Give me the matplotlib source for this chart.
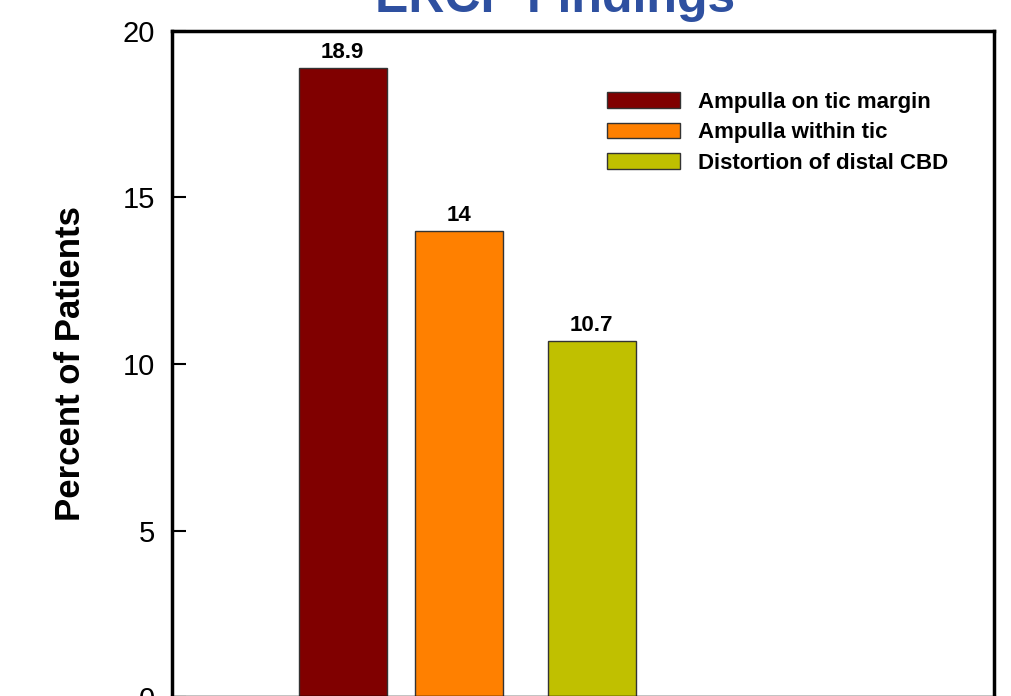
import matplotlib
matplotlib.use('Agg')
import matplotlib.pyplot as plt

# Data
categories = ['Ampulla on tic margin', 'Ampulla within tic', 'Distortion of distal CBD']
values = [18.9, 14, 10.7]
value_labels = ['18.9', '14', '10.7']
yticks = [0, 5, 10, 15, 20]

bar_colors = ['#800000', '#FF8000', '#C0C000']
x_pos = [1.94, 3.26, 4.77]

plt.rcParams['font.family'] = ['Liberation Sans Narrow', 'Liberation Sans', 'DejaVu Sans']

W, H = 1012, 696
fig = plt.figure(figsize=(W / 100, H / 100), dpi=100)
ax = fig.add_axes([172 / W, (H - 697) / H, (994 - 172) / W, (697 - 31) / H])

for x, v, c, lab in zip(x_pos, values, bar_colors, categories):
    ax.bar(x, v, width=1.0, color=c, edgecolor='#333333', linewidth=1.0, label=lab)

# value labels above bars
for x, v, t in zip(x_pos, values, value_labels):
    ax.text(x, v + 0.15, t, ha='center', va='bottom', fontsize=16, fontweight='bold')

ax.set_xlim(0, (994 - 172) / 88)
ax.set_ylim(0, 20)
ax.set_yticks(yticks)
ax.set_yticklabels([str(t) for t in yticks])
ax.set_xticks([])

ax.tick_params(axis='y', direction='in', length=10, width=1.5, labelsize=21, pad=12)
for side in ['left', 'top', 'right', 'bottom']:
    ax.spines[side].set_linewidth(2.5)

ax.set_ylabel('Percent of Patients', fontsize=25, fontweight='bold', labelpad=26)

fig.text(555 / W, 1 - 12 / H, 'ERCP Findings', ha='center', va='baseline',
         fontsize=36, fontweight='bold', color='#2E50A0')

leg = ax.legend(loc='upper left', bbox_to_anchor=((607 - 172) / 822, 1 - (92 - 31) / 666),
                frameon=False, fontsize=16, handlelength=3.3, handleheight=0.7,
                labelspacing=0.42, handletextpad=0.8, borderaxespad=0, borderpad=0)
for t in leg.get_texts():
    t.set_fontweight('bold')

fig.savefig('out.png', dpi=100)
